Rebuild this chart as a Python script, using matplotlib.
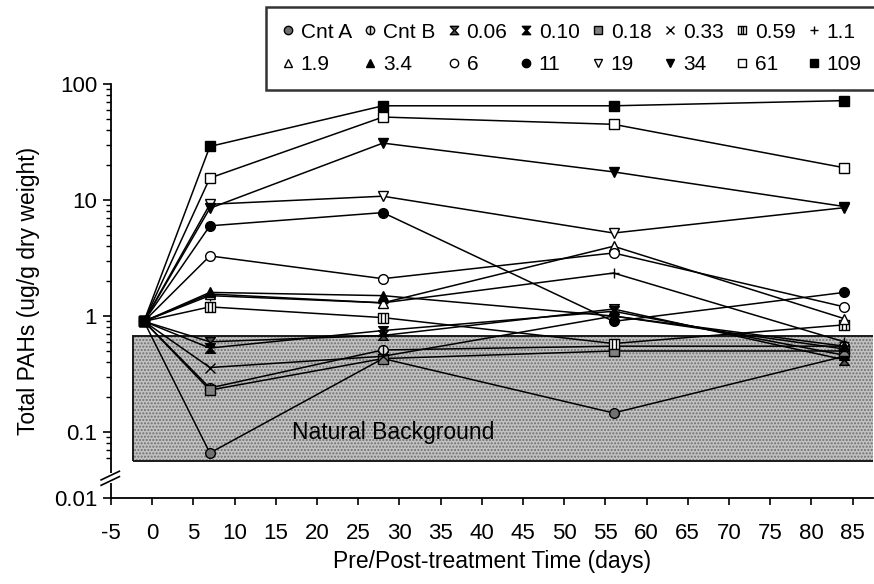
import numpy as np
import matplotlib
matplotlib.use("Agg")
import matplotlib.pyplot as plt
from matplotlib.path import Path
from matplotlib.patches import Rectangle
from matplotlib.lines import Line2D
from matplotlib.ticker import FixedLocator, FixedFormatter, NullFormatter

plt.rcParams['font.family'] = ['Liberation Sans', 'DejaVu Sans']
plt.rcParams['axes.unicode_minus'] = False

# sampling times (days relative to treatment)
days = [-1, 7, 28, 56, 84]

# total PAHs (ug/g dry weight) per treatment level
cnt_a = [0.9, 0.066, 0.43, 0.146, 0.45]
cnt_b = [0.9, 0.24, 0.51, 0.55, 0.55]
dose_006 = [0.9, 0.6, 0.68, 1.15, 0.42]
dose_010 = [0.9, 0.53, 0.75, 1.1, 0.46]
dose_018 = [0.9, 0.23, 0.43, 0.5, 0.5]
dose_033 = [0.9, 0.36, 0.45, 1.0, 0.52]
dose_059 = [0.9, 1.2, 0.97, 0.58, 0.84]
dose_11 = [0.9, 1.5, 1.3, 2.35, 0.6]
dose_19 = [0.9, 1.55, 1.3, 4.0, 0.95]
dose_34 = [0.9, 1.6, 1.5, 1.0, 0.55]
dose_6 = [0.9, 3.3, 2.1, 3.5, 1.2]
dose_11b = [0.9, 6.0, 7.8, 0.9, 1.6]
dose_19b = [0.9, 9.2, 10.8, 5.2, 8.6]
dose_34b = [0.9, 8.5, 31, 17.5, 8.8]
dose_61 = [0.9, 15.5, 52, 45, 19]
dose_109 = [0.9, 29, 65, 65, 72]

labels = ["Cnt A", "Cnt B", "0.06", "0.10", "0.18", "0.33", "0.59", "1.1",
          "1.9", "3.4", "6", "11", "19", "34", "61", "109"]
series = [cnt_a, cnt_b, dose_006, dose_010, dose_018, dose_033, dose_059, dose_11,
          dose_19, dose_34, dose_6, dose_11b, dose_19b, dose_34b, dose_61, dose_109]

# natural background band
bg_days = [-2.3, 90]
bg_low, bg_high = 0.056, 0.67

# custom marker shapes
hourglass = Path([(-1, 1), (1, 1), (0.12, 0), (1, -1), (-1, -1), (-0.12, 0), (-1, 1)],
                 [Path.MOVETO] + [Path.LINETO] * 5 + [Path.CLOSEPOLY])
circ_bar = Path.make_compound_path(Path.unit_circle(),
                                   Path([(0, -1), (0, 1)], [Path.MOVETO, Path.LINETO]))
sq = [(-1, -1), (1, -1), (1, 1), (-1, 1), (-1, -1)]
sq_bars = Path(sq + [(-0.33, -1), (-0.33, 1), (0.33, -1), (0.33, 1)],
               [Path.MOVETO] + [Path.LINETO] * 3 + [Path.CLOSEPOLY]
               + [Path.MOVETO, Path.LINETO, Path.MOVETO, Path.LINETO])

styles = [
    dict(marker='o', mfc='#707070'),
    dict(marker=circ_bar, mfc='#e0e0e0'),
    dict(marker=hourglass, mfc='#505050'),
    dict(marker=hourglass, mfc='black'),
    dict(marker='s', mfc='#808080'),
    dict(marker='x'),
    dict(marker=sq_bars, mfc='white'),
    dict(marker='+'),
    dict(marker='^', mfc='white'),
    dict(marker='^', mfc='black'),
    dict(marker='o', mfc='white'),
    dict(marker='o', mfc='black'),
    dict(marker='v', mfc='white'),
    dict(marker='v', mfc='black'),
    dict(marker='s', mfc='white'),
    dict(marker='s', mfc='black'),
]

# log scale with the bottom decade squeezed below the break
BREAK = 0.055
SQUEEZE = 0.419


def fwd(v):
    v = np.asarray(v, dtype=float)
    lv = np.log10(np.clip(v, 1e-12, None))
    lb = np.log10(BREAK)
    return np.where(lv >= lb, lv, lb + (lv - lb) * SQUEEZE)


def inv(u):
    u = np.asarray(u, dtype=float)
    lb = np.log10(BREAK)
    return np.where(u >= lb, 10 ** u, 10 ** (lb + (u - lb) / SQUEEZE))


fig = plt.figure(figsize=(8.74, 5.84), dpi=100)
ax = fig.add_axes([0.127, 0.147, 0.872, 0.709])
ax.set_yscale('function', functions=(fwd, inv))
ax.set_xlim(-5, 87.5)
ax.set_ylim(0.01, 100)

# shaded background band
ax.fill_between(bg_days, bg_low, bg_high, facecolor='#c2c2c2', edgecolor='#6e6e6e',
                hatch='.....', linewidth=0, zorder=1)
ax.add_patch(Rectangle((bg_days[0], bg_low), bg_days[1] - bg_days[0], bg_high - bg_low,
                       fill=False, edgecolor='#1a1a1a', linewidth=1.4, zorder=1.5))
ax.text(17, 0.1, "Natural Background", fontsize=16.5, ha='left', va='center', zorder=1.6)

for vals, st in zip(series, styles):
    ax.plot(days, vals, color='black', lw=1.1, ms=7, mec='black', mew=1.0, zorder=3, **st)

# ticks
ax.yaxis.set_major_locator(FixedLocator([0.01, 0.1, 1, 10, 100]))
ax.yaxis.set_major_formatter(FixedFormatter(["0.01", "0.1", "1", "10", "100"]))
minors = [m * 10.0 ** e for e in range(-2, 2) for m in range(2, 10)]
minors = [m for m in minors if m > 0.058]
ax.yaxis.set_minor_locator(FixedLocator(minors))
ax.yaxis.set_minor_formatter(NullFormatter())
ax.set_xticks(np.arange(-5, 90, 5))
ax.tick_params(axis='both', labelsize=16, direction='out', width=1.2)
ax.tick_params(axis='y', which='major', length=6, pad=4)
ax.tick_params(axis='y', which='minor', length=3.5, width=1)
ax.tick_params(axis='x', which='major', length=5, pad=13)
ax.xaxis.set_minor_locator(FixedLocator([]))

for s in ['top', 'right']:
    ax.spines[s].set_visible(False)
for s in ['left', 'bottom']:
    ax.spines[s].set_linewidth(1.3)

# axis break marks on the y axis
ax.add_patch(Rectangle((-0.02, 0.036), 0.04, 0.024, transform=ax.transAxes,
                       facecolor='white', edgecolor='none', clip_on=False, zorder=5))
for dy in (0.0, 0.013):
    ax.plot([-0.013, 0.011], [0.031 + dy, 0.052 + dy], color='black', lw=1.2,
            transform=ax.transAxes, clip_on=False, zorder=6)

ax.set_xlabel("Pre/Post-treatment Time (days)", fontsize=16.5, labelpad=4)
ax.set_ylabel("Total PAHs (ug/g dry weight)", fontsize=16.5, labelpad=10)

# legend laid out row by row
proxies = [Line2D([], [], color='black', ls='none', ms=6, mec='black', mew=1.0, **st)
           for st in styles]
order = [i for pair in zip(range(8), range(8, 16)) for i in pair]
leg = ax.legend([proxies[i] for i in order], [labels[i] for i in order], ncol=8,
                loc='upper right', bbox_to_anchor=(1.004, 0.988),
                bbox_transform=fig.transFigure, fontsize=15, frameon=True,
                fancybox=False, edgecolor='black', handlelength=0.6,
                handletextpad=0.3, columnspacing=0.6, borderpad=0.75,
                labelspacing=0.65, borderaxespad=0)
leg.get_frame().set_linewidth(1.8)
leg.set_zorder(10)

fig.savefig("out.png", dpi=100)
